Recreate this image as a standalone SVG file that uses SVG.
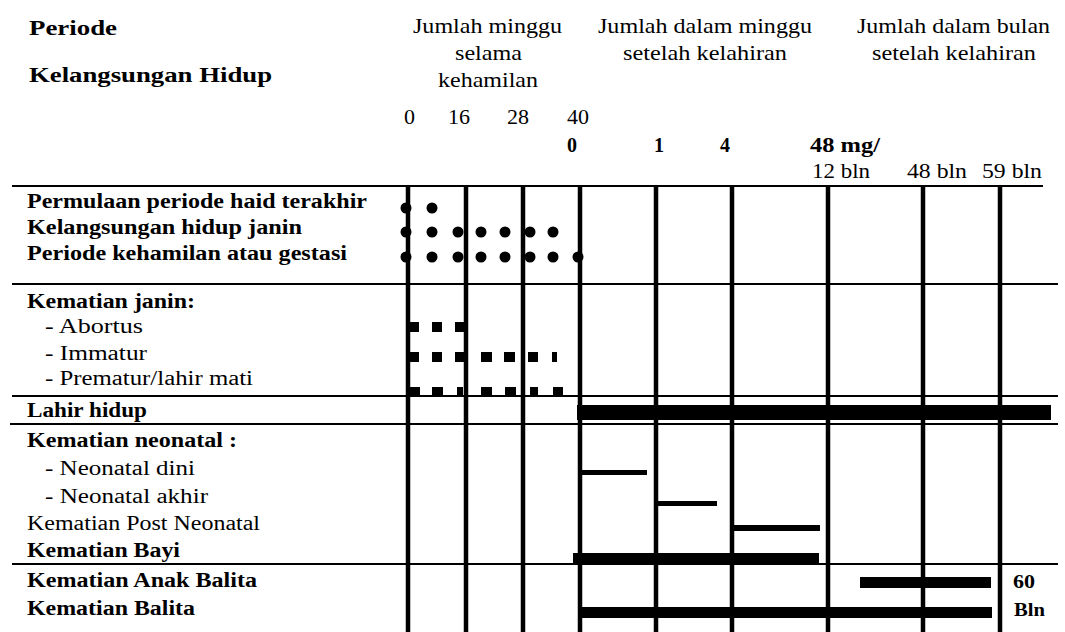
<svg xmlns="http://www.w3.org/2000/svg" width="1065" height="632" viewBox="0 0 1065 632">
<style>
.b{font-family:"Liberation Serif","Times New Roman",serif;font-weight:bold;font-size:20px;fill:#000}
.r{font-family:"Liberation Serif","Times New Roman",serif;font-weight:normal;font-size:20px;fill:#000}
.h{font-family:"Liberation Serif","Times New Roman",serif;font-weight:normal;font-size:22px;fill:#000}
.s{font-family:"Liberation Serif","Times New Roman",serif;font-weight:bold;font-size:19px;fill:#000}
.v{stroke:#000;stroke-width:4.5}
.hl{stroke:#000;stroke-width:2}
.bar{fill:#000}
.dot{fill:#000}
</style>
<rect width="1065" height="632" fill="#fff"/>
<g id="header">
<text class="b" x="29" y="35" textLength="88" lengthAdjust="spacingAndGlyphs">Periode</text>
<text class="b" x="29" y="82" textLength="243" lengthAdjust="spacingAndGlyphs">Kelangsungan Hidup</text>
<text class="h" x="413" y="33" textLength="149" lengthAdjust="spacingAndGlyphs">Jumlah minggu</text>
<text class="h" x="455" y="60" textLength="67" lengthAdjust="spacingAndGlyphs">selama</text>
<text class="h" x="438" y="87" textLength="100" lengthAdjust="spacingAndGlyphs">kehamilan</text>
<text class="h" x="598" y="33" textLength="214" lengthAdjust="spacingAndGlyphs">Jumlah dalam minggu</text>
<text class="h" x="623" y="60" textLength="164" lengthAdjust="spacingAndGlyphs">setelah kelahiran</text>
<text class="h" x="857" y="33" textLength="193" lengthAdjust="spacingAndGlyphs">Jumlah dalam bulan</text>
<text class="h" x="872" y="60" textLength="164" lengthAdjust="spacingAndGlyphs">setelah kelahiran</text>
<text class="h" x="404" y="124">0</text>
<text class="h" x="448" y="124">16</text>
<text class="h" x="507" y="124">28</text>
<text class="h" x="567" y="124">40</text>
<text class="b" x="567" y="152">0</text>
<text class="b" x="654" y="152">1</text>
<text class="b" x="720" y="152">4</text>
<text class="b" x="810" y="152" textLength="70" lengthAdjust="spacingAndGlyphs">48 mg/</text>
<text class="h" x="812" y="178" textLength="58" lengthAdjust="spacingAndGlyphs">12 bln</text>
<text class="h" x="907" y="178" textLength="60" lengthAdjust="spacingAndGlyphs">48 bln</text>
<text class="h" x="982" y="178" textLength="60" lengthAdjust="spacingAndGlyphs">59 bln</text>
</g>
<g id="connectors">
<line class="hl" x1="12" y1="186" x2="1043" y2="186"/>
<line class="hl" x1="12" y1="284" x2="1058" y2="284"/>
<line class="hl" x1="12" y1="396" x2="1058" y2="396"/>
<line class="hl" x1="10" y1="424" x2="1058" y2="424"/>
<line class="hl" x1="12" y1="564" x2="1058" y2="564"/>
<line class="v" x1="408" y1="186" x2="408" y2="632"/>
<line class="v" x1="466" y1="186" x2="466" y2="632"/>
<line class="v" x1="523" y1="186" x2="523" y2="632"/>
<line class="v" x1="580" y1="186" x2="580" y2="632"/>
<line class="v" x1="656" y1="186" x2="656" y2="632"/>
<line class="v" x1="732" y1="186" x2="732" y2="632"/>
<line class="v" x1="828" y1="186" x2="828" y2="632"/>
<line class="v" x1="923" y1="186" x2="923" y2="632"/>
<line class="v" x1="1000" y1="186" x2="1000" y2="632"/>
</g>
<g id="row-permulaan">
<text class="b" x="27" y="208" textLength="340" lengthAdjust="spacingAndGlyphs">Permulaan periode haid terakhir</text>
<circle class="dot" cx="406" cy="208" r="5.5"/>
<circle class="dot" cx="432" cy="208" r="5.5"/>
</g>
<g id="row-kelangsungan">
<text class="b" x="27" y="234" textLength="275" lengthAdjust="spacingAndGlyphs">Kelangsungan hidup janin</text>
<circle class="dot" cx="406" cy="232" r="5.5"/>
<circle class="dot" cx="432" cy="232" r="5.5"/>
<circle class="dot" cx="458" cy="232" r="5.5"/>
<circle class="dot" cx="481" cy="232" r="5.5"/>
<circle class="dot" cx="505" cy="232" r="5.5"/>
<circle class="dot" cx="530" cy="232" r="5.5"/>
<circle class="dot" cx="553" cy="232" r="5.5"/>
</g>
<g id="row-gestasi">
<text class="b" x="27" y="260" textLength="320" lengthAdjust="spacingAndGlyphs">Periode kehamilan atau gestasi</text>
<circle class="dot" cx="406" cy="257" r="5.5"/>
<circle class="dot" cx="432" cy="257" r="5.5"/>
<circle class="dot" cx="458" cy="257" r="5.5"/>
<circle class="dot" cx="481" cy="257" r="5.5"/>
<circle class="dot" cx="505" cy="257" r="5.5"/>
<circle class="dot" cx="530" cy="257" r="5.5"/>
<circle class="dot" cx="553" cy="257" r="5.5"/>
<circle class="dot" cx="578" cy="257" r="5.5"/>
</g>
<g id="row-kematian-janin">
<text class="b" x="27" y="308" textLength="168" lengthAdjust="spacingAndGlyphs">Kematian janin:</text>
</g>
<g id="row-abortus">
<text class="r" x="45" y="333" textLength="98" lengthAdjust="spacingAndGlyphs">- Abortus</text>
<rect class="bar" x="409" y="322" width="10" height="10"/>
<rect class="bar" x="432" y="322" width="10" height="10"/>
<rect class="bar" x="455" y="322" width="9" height="10"/>
</g>
<g id="row-immatur">
<text class="r" x="45" y="360" textLength="102" lengthAdjust="spacingAndGlyphs">- Immatur</text>
<rect class="bar" x="409" y="352" width="10" height="10"/>
<rect class="bar" x="432" y="352" width="10" height="10"/>
<rect class="bar" x="455" y="352" width="9" height="10"/>
<rect class="bar" x="481" y="352" width="11" height="10"/>
<rect class="bar" x="504" y="352" width="11" height="10"/>
<rect class="bar" x="528" y="352" width="10" height="10"/>
<rect class="bar" x="552" y="352" width="5" height="10"/>
</g>
<g id="row-prematur">
<text class="r" x="45" y="385" textLength="208" lengthAdjust="spacingAndGlyphs">- Prematur/lahir mati</text>
<rect class="bar" x="410" y="387" width="10" height="9"/>
<rect class="bar" x="432" y="387" width="11" height="9"/>
<rect class="bar" x="457" y="387" width="6" height="9"/>
<rect class="bar" x="481" y="387" width="11" height="9"/>
<rect class="bar" x="505" y="387" width="11" height="9"/>
<rect class="bar" x="530" y="387" width="8" height="9"/>
<rect class="bar" x="553" y="387" width="10" height="9"/>
</g>
<g id="row-lahir-hidup">
<text class="b" x="27" y="417" textLength="120" lengthAdjust="spacingAndGlyphs">Lahir hidup</text>
<rect class="bar" x="577" y="405" width="474" height="15"/>
</g>
<g id="row-kematian-neonatal">
<text class="b" x="27" y="447" textLength="210" lengthAdjust="spacingAndGlyphs">Kematian neonatal :</text>
</g>
<g id="row-neonatal-dini">
<text class="r" x="45" y="475" textLength="150" lengthAdjust="spacingAndGlyphs">- Neonatal dini</text>
<rect class="bar" x="580" y="470" width="67" height="5"/>
</g>
<g id="row-neonatal-akhir">
<text class="r" x="45" y="503" textLength="163" lengthAdjust="spacingAndGlyphs">- Neonatal akhir</text>
<rect class="bar" x="656" y="501" width="61" height="5"/>
</g>
<g id="row-post-neonatal">
<text class="r" x="27" y="530" textLength="233" lengthAdjust="spacingAndGlyphs">Kematian Post Neonatal</text>
<rect class="bar" x="732" y="525" width="88" height="6"/>
</g>
<g id="row-bayi">
<text class="b" x="27" y="557" textLength="153" lengthAdjust="spacingAndGlyphs">Kematian Bayi</text>
<rect class="bar" x="573" y="553" width="246" height="12"/>
</g>
<g id="row-anak-balita">
<text class="b" x="27" y="587" textLength="230" lengthAdjust="spacingAndGlyphs">Kematian Anak Balita</text>
<rect class="bar" x="860" y="577" width="131" height="11"/>
<text class="s" x="1013" y="588" textLength="22" lengthAdjust="spacingAndGlyphs">60</text>
</g>
<g id="row-balita">
<text class="b" x="27" y="615" textLength="168" lengthAdjust="spacingAndGlyphs">Kematian Balita</text>
<rect class="bar" x="580" y="607" width="412" height="11"/>
<text class="s" x="1014" y="616" textLength="31" lengthAdjust="spacingAndGlyphs">Bln</text>
</g>
</svg>
